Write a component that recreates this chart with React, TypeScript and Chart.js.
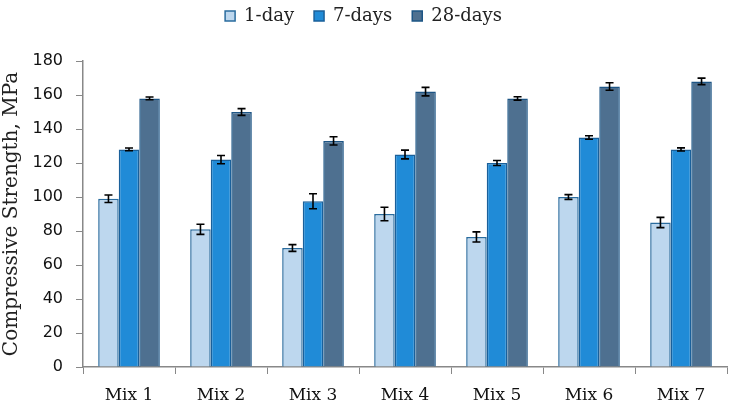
import React, { useEffect, useRef } from "react";
import { Chart, registerables } from "chart.js";

Chart.register(...registerables);

const categories = ["Mix 1", "Mix 2", "Mix 3", "Mix 4", "Mix 5", "Mix 6", "Mix 7"];
const seriesNames = ["1-day", "7-days", "28-days"];
const day1 = [99, 81, 70, 90, 76.5, 100, 85];
const day7 = [128, 122, 97.5, 125, 120, 135, 128];
const day28 = [158, 150, 133, 162, 158, 165, 168];
const err1 = [2.2, 3, 2, 4, 3, 1.4, 3];
const err7 = [0.8, 2.4, 4.4, 2.6, 1.5, 1, 0.9];
const err28 = [0.8, 2, 2.4, 2.5, 1, 2.2, 1.9];
const yTicks = [0, 20, 40, 60, 80, 100, 120, 140, 160, 180];

const errorBarPlugin = {
  id: "errorBars",
  afterDatasetsDraw(chart: any) {
    const ctx = chart.ctx;
    const yScale = chart.scales.y;
    chart.data.datasets.forEach((ds: any, di: number) => {
      const meta = chart.getDatasetMeta(di);
      if (meta.hidden) return;
      meta.data.forEach((bar: any, i: number) => {
        const v = ds.data[i];
        const e = ds.errors[i];
        const yTop = yScale.getPixelForValue(v + e);
        const yBot = yScale.getPixelForValue(v - e);
        const x = bar.x;
        const cap = 4;
        ctx.save();
        ctx.strokeStyle = "#000";
        ctx.lineWidth = 1.6;
        ctx.beginPath();
        ctx.moveTo(x, yTop);
        ctx.lineTo(x, yBot);
        ctx.moveTo(x - cap, yTop);
        ctx.lineTo(x + cap, yTop);
        ctx.moveTo(x - cap, yBot);
        ctx.lineTo(x + cap, yBot);
        ctx.stroke();
        ctx.restore();
      });
    });
  },
};

const legendLayoutPlugin = {
  id: "legendLayout",
  beforeInit(chart: any) {
    const legend = chart.legend;
    if (!legend) return;
    const origFit = legend.fit;
    legend.fit = function () {
      origFit.call(this);
      this.height = 61;
    };
  },
  afterLayout(chart: any) {
    const legend = chart.legend;
    if (!legend) return;
    legend.top -= 13;
    legend.bottom -= 13;
  },
};

export default function App() {
  const ref = useRef<HTMLCanvasElement | null>(null);
  useEffect(() => {
    document.body.style.margin = "0";
    const serif = "'DejaVu Serif', serif";
    const chart = new Chart(ref.current!, {
      type: "bar",
      data: {
        labels: categories,
        datasets: [
          { label: seriesNames[0], data: day1, errors: err1, backgroundColor: "#bdd7ee", borderColor: "#2a6c9e", borderWidth: 1.5 } as any,
          { label: seriesNames[1], data: day7, errors: err7, backgroundColor: "#208bd7", borderColor: "#1a609a", borderWidth: 1.5 } as any,
          { label: seriesNames[2], data: day28, errors: err28, backgroundColor: "#4e7090", borderColor: "#1d5585", borderWidth: 1.5 } as any,
        ],
      },
      options: {
        animation: false,
        responsive: false,
        maintainAspectRatio: false,
        layout: { padding: { top: 0, right: 7, left: 0, bottom: 0 } },
        datasets: { bar: { categoryPercentage: 0.67, barPercentage: 1 } },
        plugins: {
          tooltip: { enabled: false },
          legend: {
            position: "top",
            labels: {
              font: { family: serif, size: 18 },
              color: "#222",
              boxWidth: 10,
              boxHeight: 10,
              padding: 20,
            },
          },
        },
        scales: {
          x: {
            grid: { drawOnChartArea: false, drawTicks: true, tickLength: 7, color: "#888", offset: true },
            border: { color: "#888", width: 1.5 },
            ticks: { font: { family: serif, size: 17 }, color: "#111", padding: 11 },
            afterFit(scale: any) { scale.height = 46; },
          },
          y: {
            min: 0,
            max: 180,
            afterBuildTicks(scale: any) { scale.ticks = yTicks.map((v) => ({ value: v })); },
            grid: { drawOnChartArea: false, drawTicks: true, tickLength: 7, color: "#888" },
            border: { color: "#888", width: 1.5 },
            ticks: { font: { family: "'DejaVu Sans', sans-serif", size: 16 }, color: "#111", padding: 13 },
            title: { display: true, text: "Compressive Strength, MPa", font: { family: serif, size: 20 }, color: "#222", padding: 0 },
            afterFit(scale: any) { scale.width = 83; },
          },
        },
      } as any,
      plugins: [errorBarPlugin, legendLayoutPlugin],
    });
    return () => chart.destroy();
  }, []);
  return <canvas ref={ref} width={734} height={413} style={{ display: "block" }} />;
}
